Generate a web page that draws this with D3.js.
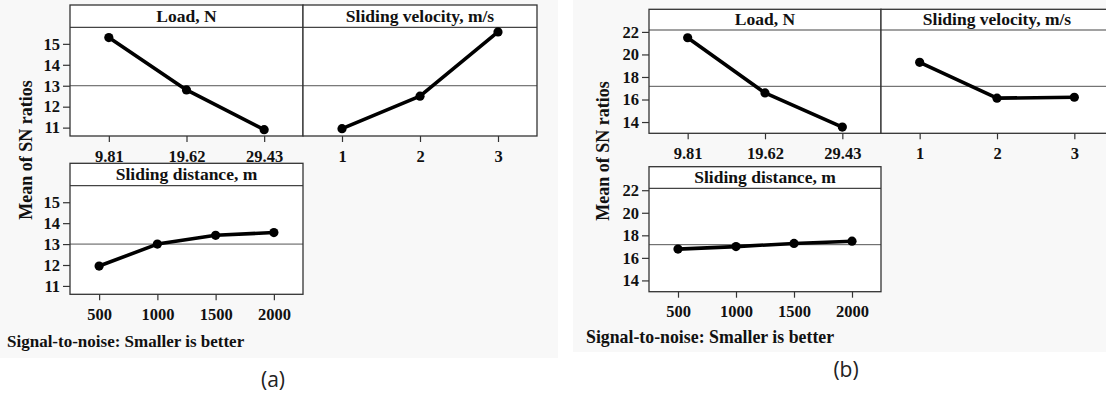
<!DOCTYPE html>
<html>
<head>
<meta charset="utf-8">
<script src="https://cdn.jsdelivr.net/npm/d3@7"></script>
<style>
  html, body { margin: 0; padding: 0; background: #ffffff; }
  svg { display: block; }
</style>
</head>
<body>
<svg id="chart" width="1106" height="394"></svg>
<script>
// ---------- DATA ----------
const loadLevels = ["9.81", "19.62", "29.43"];
const velocityLevels = ["1", "2", "3"];
const distanceLevels = ["500", "1000", "1500", "2000"];

const panelTitles = ["Load, N", "Sliding velocity, m/s", "Sliding distance, m"];

// Figure (a)
const snA_load = [15.3, 12.8, 10.9];
const snA_velocity = [10.95, 12.5, 15.57];
const snA_distance = [11.95, 13.0, 13.42, 13.55];
const meanA = 13.0;
const yTicksA = [11, 12, 13, 14, 15];
const yDomainA = [10.6, 15.79];

// Figure (b)
const snB_load = [21.48, 16.58, 13.55];
const snB_velocity = [19.3, 16.12, 16.2];
const snB_distance = [16.78, 17.0, 17.28, 17.48];
const meanB = 17.17;
const yTicksB = [14, 16, 18, 20, 22];
const yDomainB = [13.0, 22.17];

const yLabel = "Mean of SN ratios";
const footerText = "Signal-to-noise: Smaller is better";
const figLabels = ["(a)", "(b)"];

// ---------- LAYOUT ----------
const svg = d3.select("#chart");
const SERIF = "'Liberation Serif', 'Times New Roman', serif";

const figures = [
  {
    bg: [0, 0, 558, 358],
    mean: meanA, ticks: yTicksA, domain: yDomainA,
    panels: [
      { box: [70, 5, 303, 27.3, 136], levels: loadLevels, values: snA_load, title: panelTitles[0], yAxis: true },
      { box: [303, 5, 537, 27.3, 136], levels: velocityLevels, values: snA_velocity, title: panelTitles[1], yAxis: false },
      { box: [70, 163.3, 303, 185.7, 294.3], levels: distanceLevels, values: snA_distance, title: panelTitles[2], yAxis: true }
    ],
    yLabelPos: [32, 150],
    footerPos: [7, 347], footerSize: 17,
    figLabelPos: [273, 387], figLabel: figLabels[0]
  },
  {
    bg: [573, 0, 1106, 352],
    mean: meanB, ticks: yTicksB, domain: yDomainB,
    panels: [
      { box: [649, 9.3, 881, 30, 133.3], levels: loadLevels, values: snB_load, title: panelTitles[0], yAxis: true },
      { box: [881, 9.3, 1113, 30, 133.3], levels: velocityLevels, values: snB_velocity, title: panelTitles[1], yAxis: false },
      { box: [649, 166.7, 881, 188.3, 291.7], levels: distanceLevels, values: snB_distance, title: panelTitles[2], yAxis: true }
    ],
    yLabelPos: [609, 151],
    footerPos: [586, 343], footerSize: 17.8,
    figLabelPos: [846, 377], figLabel: figLabels[1]
  }
];

figures.forEach(fig => {
  const g = svg.append("g");
  g.append("rect")
    .attr("x", fig.bg[0]).attr("y", fig.bg[1])
    .attr("width", fig.bg[2] - fig.bg[0]).attr("height", fig.bg[3] - fig.bg[1])
    .attr("fill", "#f8f8f8");

  fig.panels.forEach(p => {
    const [x0, top, x1, hdr, bottom] = p.box;
    const x = d3.scalePoint().domain(p.levels).range([x0, x1]).padding(0.5);
    const y = d3.scaleLinear().domain(fig.domain).range([bottom, hdr]);

    // panel background
    g.append("rect")
      .attr("x", x0).attr("y", top)
      .attr("width", x1 - x0).attr("height", bottom - top)
      .attr("fill", "#ffffff");

    // mean reference line
    g.append("line")
      .attr("x1", x0).attr("x2", x1)
      .attr("y1", y(fig.mean)).attr("y2", y(fig.mean))
      .attr("stroke", "#555").attr("stroke-width", 1);

    // header line
    g.append("line")
      .attr("x1", x0).attr("x2", x1)
      .attr("y1", hdr).attr("y2", hdr)
      .attr("stroke", "#444").attr("stroke-width", 1.2);

    // border
    g.append("rect")
      .attr("x", x0).attr("y", top)
      .attr("width", x1 - x0).attr("height", bottom - top)
      .attr("fill", "none").attr("stroke", "#333").attr("stroke-width", 1.3);

    // title
    g.append("text")
      .attr("x", (x0 + x1) / 2).attr("y", hdr - 5.5)
      .attr("text-anchor", "middle")
      .attr("font-family", SERIF).attr("font-weight", "bold")
      .attr("font-size", 17.5).attr("fill", "#111")
      .text(p.title);

    // x axis
    const xa = g.append("g")
      .attr("transform", `translate(0,${bottom})`)
      .call(d3.axisBottom(x).tickSize(6).tickPadding(8));
    xa.select(".domain").remove();
    xa.selectAll("line").attr("stroke", "#333").attr("stroke-width", 1.2);
    xa.selectAll("text")
      .attr("font-family", SERIF).attr("font-weight", "bold")
      .attr("font-size", 16.5).attr("fill", "#111");

    // y axis
    if (p.yAxis) {
      const ya = g.append("g")
        .attr("transform", `translate(${x0},0)`)
        .call(d3.axisLeft(y).tickValues(fig.ticks).tickFormat(d3.format("d")).tickSize(7).tickPadding(3));
      ya.select(".domain").remove();
      ya.selectAll("line").attr("stroke", "#333").attr("stroke-width", 1.2);
      ya.selectAll("text")
        .attr("font-family", SERIF).attr("font-weight", "bold")
        .attr("font-size", 16.5).attr("fill", "#111");
    }

    // data line
    const pts = p.levels.map((lv, i) => [x(lv), y(p.values[i])]);
    g.append("path")
      .attr("d", d3.line()(pts))
      .attr("fill", "none").attr("stroke", "#000")
      .attr("stroke-width", 3.6).attr("stroke-linejoin", "round");
    g.selectAll(null).data(pts).enter().append("circle")
      .attr("cx", d => d[0]).attr("cy", d => d[1])
      .attr("r", 4.6).attr("fill", "#000");
  });

  // y label
  g.append("text")
    .attr("transform", `translate(${fig.yLabelPos[0]},${fig.yLabelPos[1]}) rotate(-90)`)
    .attr("text-anchor", "middle")
    .attr("font-family", SERIF).attr("font-weight", "bold")
    .attr("font-size", 18).attr("fill", "#111")
    .text(yLabel);

  // footer
  g.append("text")
    .attr("x", fig.footerPos[0]).attr("y", fig.footerPos[1])
    .attr("font-family", SERIF).attr("font-weight", "bold")
    .attr("font-size", fig.footerSize).attr("fill", "#111")
    .text(footerText);

  // figure label
  svg.append("text")
    .attr("x", fig.figLabelPos[0]).attr("y", fig.figLabelPos[1])
    .attr("text-anchor", "middle")
    .attr("font-family", "'Open Sans', 'Noto Sans', sans-serif")
    .attr("font-size", 21).attr("fill", "#222")
    .text(fig.figLabel);
});
</script>
</body>
</html>
